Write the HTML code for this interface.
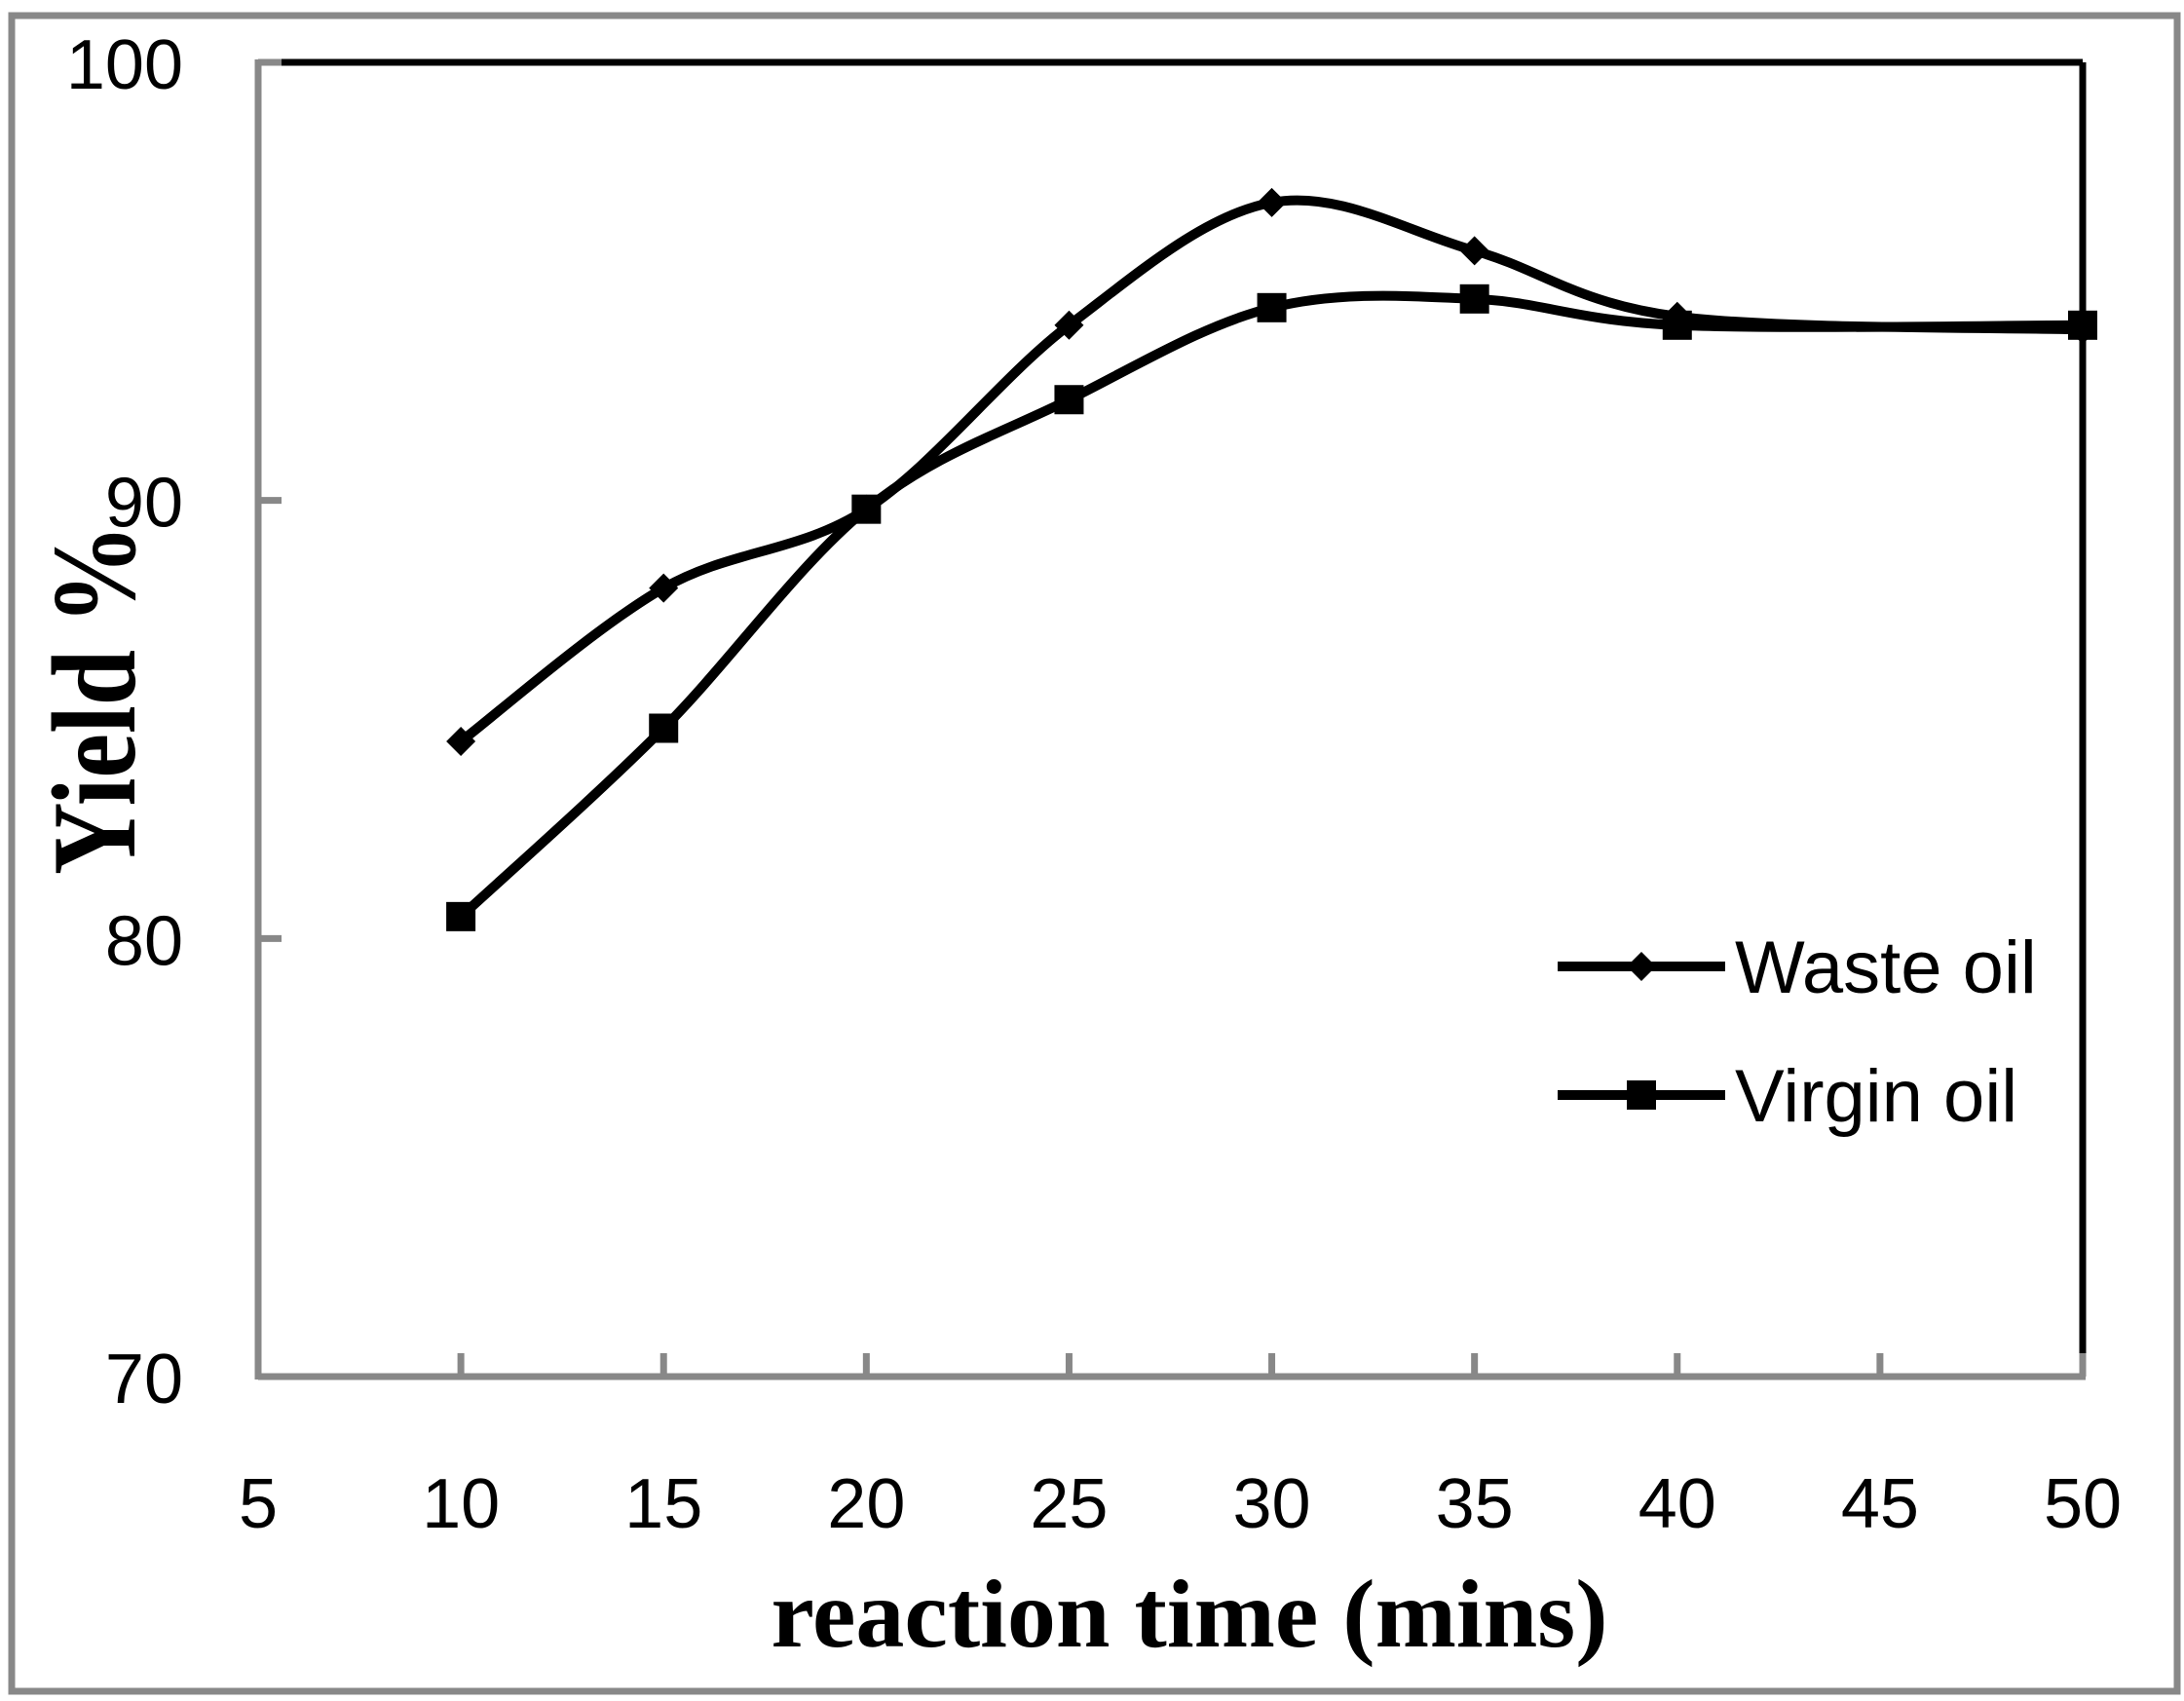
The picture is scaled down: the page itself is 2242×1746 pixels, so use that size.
<!DOCTYPE html>
<html><head><meta charset="utf-8"><style>
html,body{margin:0;padding:0;background:#fff}
svg{display:block}
</style></head><body>
<svg id="chart" width="2242" height="1746" viewBox="0 0 2242 1746" xmlns="http://www.w3.org/2000/svg">
<rect x="12" y="16" width="2223" height="1720" fill="#fff" stroke="#888" stroke-width="7"/>
<g id="axes"></g>
<g id="series"></g>
<text x="1221" y="1690" text-anchor="middle" font-family="Liberation Serif, serif" font-weight="bold" font-size="100">reaction time (mins)</text>
<text transform="translate(138,718) rotate(-90) scale(0.92,1.1)" text-anchor="middle" font-family="Liberation Serif, serif" font-weight="bold" font-size="112">Yield %</text>
<g id="legend"></g>
</svg>
<script>
const xTicks=[5,10,15,20,25,30,35,40,45,50];
const yTicks=[70,80,90,100];
const times=[10,15,20,25,30,35,40,50];
const wasteOil=[84.5,88.0,89.8,94.0,96.8,95.7,94.2,93.9];
const virginOil=[80.5,84.8,89.8,92.3,94.4,94.6,94.0,94.0];
const seriesNames=["Waste oil","Virgin oil"];

const L=265,R=2138,T=64,B=1413;
const xs=v=>L+(v-5)/(50-5)*(R-L);
const ys=v=>B-(v-70)/(100-70)*(B-T);
const NS="http://www.w3.org/2000/svg";
function mk(tag,attrs,parent){const e=document.createElementNS(NS,tag);for(const k in attrs)e.setAttribute(k,attrs[k]);parent.appendChild(e);return e;}
const axes=document.getElementById('axes');
let e;
e=mk('line',{x1:L,y1:T,x2:R,y2:T,stroke:'#000','stroke-width':7},axes);


e=mk('line',{x1:R,y1:T,x2:R,y2:B,stroke:'#000','stroke-width':7},axes);


e=mk('line',{x1:L,y1:T-3,x2:L,y2:B+3,stroke:'#888','stroke-width':7},axes);


e=mk('line',{x1:L,y1:B,x2:R+3,y2:B,stroke:'#888','stroke-width':7},axes);


yTicks.forEach(v=>{
  const t=mk('line',{x1:L,y1:ys(v),x2:L+24,y2:ys(v),stroke:'#888','stroke-width':7},axes);
  
  
  const lb=mk('text',{x:188,y:ys(v)+27,'text-anchor':'end','font-family':'Liberation Sans, sans-serif','font-size':72},axes);
  lb.textContent=v;
  
  
});
xTicks.forEach(v=>{
  const t=mk('line',{x1:xs(v),y1:B,x2:xs(v),y2:B-24,stroke:'#888','stroke-width':7},axes);
  
  
  const lb=mk('text',{x:xs(v),y:1568,'text-anchor':'middle','font-family':'Liberation Sans, sans-serif','font-size':72},axes);
  lb.textContent=v;
  
  
});
function smooth(pts){
  let d='M'+pts[0][0]+','+pts[0][1];
  for(let i=0;i<pts.length-1;i++){
    const p0=pts[Math.max(0,i-1)],p1=pts[i],p2=pts[i+1],p3=pts[Math.min(pts.length-1,i+2)];
    const c1=[p1[0]+(p2[0]-p0[0])/6,p1[1]+(p2[1]-p0[1])/6];
    const c2=[p2[0]-(p3[0]-p1[0])/6,p2[1]-(p3[1]-p1[1])/6];
    d+=' C'+c1+' '+c2+' '+p2;
  }
  return d;
}
function diamond(g,x,y,s){return mk('polygon',{points:`${x},${y-s} ${x+s},${y} ${x},${y+s} ${x-s},${y}`,fill:'#000'},g);}
function square(g,x,y,s){return mk('rect',{x:x-s,y:y-s,width:2*s,height:2*s,fill:'#000'},g);}
const sg=document.getElementById('series');
[[wasteOil,'waste-oil',diamond,15],[virginOil,'virgin-oil',square,15]].forEach(([vals,name,mark,s])=>{
  const pts=times.map((t,i)=>[xs(t),ys(vals[i])]);
  const p=mk('path',{d:smooth(pts),fill:'none',stroke:'#000','stroke-width':10},sg);
  
  
  pts.forEach(q=>{
    const m=mark(sg,q[0],q[1],s);
    
    
  });
});
const lg=document.getElementById('legend');
[[1,'waste-oil',diamond,15,992],[2,'virgin-oil',square,15,1124]].forEach(([i,name,mark,s,y])=>{
  const l=mk('line',{x1:1599,y1:y,x2:1771,y2:y,stroke:'#000','stroke-width':10},lg);
  
  
  const m=mark(lg,1685,y,s);
  
  
  const t=mk('text',{x:1781,y:y+27,'font-family':'Liberation Sans, sans-serif','font-size':76},lg);
  t.textContent=seriesNames[i-1];
  
  
});
</script>
</body></html>
